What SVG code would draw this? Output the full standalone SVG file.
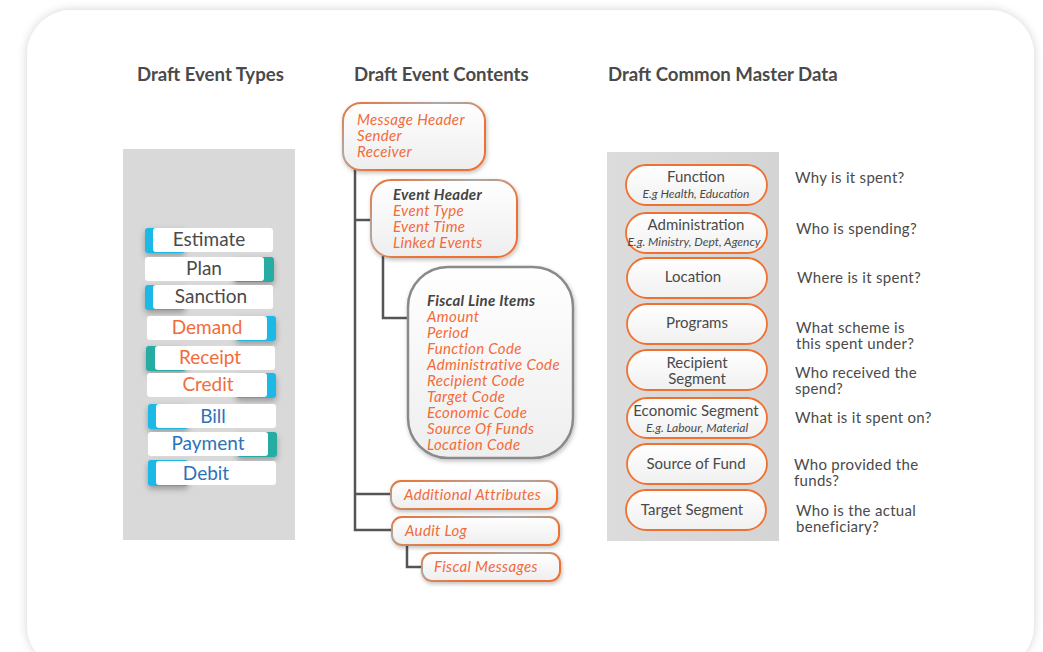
<svg xmlns="http://www.w3.org/2000/svg" width="1043" height="652" viewBox="0 0 1043 652">
<defs>
<filter id="cardsh" x="-5%" y="-5%" width="110%" height="110%"><feDropShadow dx="0" dy="0" stdDeviation="5" flood-color="#000" flood-opacity="0.18"/></filter>
<filter id="sh" x="-20%" y="-30%" width="140%" height="180%"><feDropShadow dx="0" dy="3" stdDeviation="3" flood-color="#000" flood-opacity="0.3"/></filter>
<filter id="sh2" x="-10%" y="-10%" width="120%" height="130%"><feDropShadow dx="1" dy="2" stdDeviation="2" flood-color="#000" flood-opacity="0.25"/></filter>
<linearGradient id="boxfill" x1="0" y1="0" x2="0" y2="1"><stop offset="0" stop-color="#ffffff"/><stop offset="1" stop-color="#eeeeee"/></linearGradient>
<linearGradient id="ostroke" x1="0" y1="0" x2="1" y2="1"><stop offset="0" stop-color="#f07030"/><stop offset="0.35" stop-color="#aaaaaa"/><stop offset="0.65" stop-color="#f07030"/><stop offset="1" stop-color="#f07030"/></linearGradient>
<linearGradient id="panel" x1="0" y1="0" x2="1" y2="0"><stop offset="0" stop-color="#dcdcdc"/><stop offset="1" stop-color="#d4d4d4"/></linearGradient>
<linearGradient id="pill" x1="0" y1="0" x2="0" y2="1"><stop offset="0" stop-color="#ffffff"/><stop offset="1" stop-color="#f0f0f0"/></linearGradient>
</defs>
<style>
.h{font-family:Lato,"Liberation Sans",sans-serif;font-weight:bold;font-size:18.6px;fill:#4a4a4a}
.et{font-family:Lato,"Liberation Sans",sans-serif;font-size:19px;text-anchor:middle}
.g{fill:#4a4a4a}.o{fill:#f26b3a}.b{fill:#2e72b8}
.btn{fill:#ffffff}
.cy{fill:#1bb8e6}.tl{fill:#26aca2}
.mb{fill:url(#boxfill);stroke:url(#ostroke);stroke-width:2}
.it{font-family:Lato,"Liberation Sans",sans-serif;font-style:italic;font-size:15px;letter-spacing:0.36px;fill:#f26b3a}
.bi{font-family:Lato,"Liberation Sans",sans-serif;font-style:italic;font-weight:bold;font-size:15px;letter-spacing:0.3px;fill:#444}
.ln{fill:none;stroke:#555;stroke-width:2.5}
.pl{fill:url(#pill);stroke:#f07030;stroke-width:1.8}
.pt{font-family:Lato,"Liberation Sans",sans-serif;font-size:15px;fill:#4a4a4a;text-anchor:middle}
.ps{font-family:Lato,"Liberation Sans",sans-serif;font-style:italic;font-size:12px;fill:#4a4a4a;text-anchor:middle}
.q{font-family:Lato,"Liberation Sans",sans-serif;font-size:15px;letter-spacing:0.3px;fill:#4a4a4a}
</style>
<rect x="0" y="0" width="1043" height="652" fill="#ffffff"/>
<rect x="27" y="10" width="1007" height="660" rx="45" fill="#ffffff" filter="url(#cardsh)"/>

<text class="h" x="137" y="81">Draft Event Types</text>
<text class="h" x="354" y="81">Draft Event Contents</text>
<text class="h" x="608" y="81">Draft Common Master Data</text>

<rect x="123" y="149" width="172" height="391" fill="#d9d9d9"/>
<rect x="607" y="152" width="172" height="389" fill="url(#panel)"/>

<g id="estimate"><rect class="cy" x="145" y="228" width="40" height="25" rx="3" filter="url(#sh)"/><rect class="btn" x="153" y="228" width="120" height="24" rx="3"/><text class="et g" x="209" y="246">Estimate</text></g>
<g id="plan"><rect class="tl" x="234" y="257" width="40" height="25" rx="3" filter="url(#sh)"/><rect class="btn" x="145" y="257" width="119" height="24" rx="3"/><text class="et g" x="204" y="275">Plan</text></g>
<g id="sanction"><rect class="cy" x="145" y="285" width="40" height="25" rx="3" filter="url(#sh)"/><rect class="btn" x="153" y="285" width="120" height="24" rx="3"/><text class="et g" x="211" y="303">Sanction</text></g>
<g id="demand"><rect class="cy" x="236" y="316" width="40" height="25" rx="3" filter="url(#sh)"/><rect class="btn" x="147" y="316" width="120" height="24" rx="3"/><text class="et o" x="207" y="334">Demand</text></g>
<g id="receipt"><rect class="tl" x="146" y="346" width="40" height="25" rx="3" filter="url(#sh)"/><rect class="btn" x="155" y="346" width="120" height="24" rx="3"/><text class="et o" x="210" y="364">Receipt</text></g>
<g id="credit"><rect class="cy" x="236" y="373" width="40" height="25" rx="3" filter="url(#sh)"/><rect class="btn" x="147" y="373" width="120" height="24" rx="3"/><text class="et o" x="208" y="391">Credit</text></g>
<g id="bill"><rect class="cy" x="148" y="404" width="40" height="25" rx="3" filter="url(#sh)"/><rect class="btn" x="156" y="404" width="120" height="24" rx="3"/><text class="et b" x="213" y="423">Bill</text></g>
<g id="payment"><rect class="tl" x="237" y="432" width="40" height="25" rx="3" filter="url(#sh)"/><rect class="btn" x="148" y="432" width="120" height="24" rx="3"/><text class="et b" x="208" y="450">Payment</text></g>
<g id="debit"><rect class="cy" x="148" y="460" width="40" height="26" rx="3" filter="url(#sh)"/><rect class="btn" x="156" y="461" width="120" height="24" rx="3"/><text class="et b" x="206" y="480">Debit</text></g>

<g id="connectors">
<path class="ln" d="M355 168 V530 H392"/>
<path class="ln" d="M355 220 H372"/>
<path class="ln" d="M355 494 H391"/>
<path class="ln" d="M383 256 V318 H410"/>
<path class="ln" d="M407 544 V567 H423"/>
</g>

<g id="message-header"><rect class="mb" x="343" y="103" width="142" height="67" rx="18" filter="url(#sh2)"/>
<text class="it" x="357" y="125">Message Header</text><text class="it" x="357" y="141">Sender</text><text class="it" x="357" y="157">Receiver</text></g>
<g id="event-header"><rect class="mb" x="371" y="180" width="146" height="77" rx="20" filter="url(#sh2)"/>
<text class="bi" x="393" y="200">Event Header</text><text class="it" x="393" y="216">Event Type</text><text class="it" x="393" y="232">Event Time</text><text class="it" x="393" y="248">Linked Events</text></g>
<g id="fiscal-line-items"><rect x="408" y="267" width="165" height="191" rx="40" fill="url(#boxfill)" stroke="#8a8a8a" stroke-width="2.5" filter="url(#sh2)"/>
<text class="bi" x="427" y="306">Fiscal Line Items</text>
<text class="it" x="427" y="322">Amount</text><text class="it" x="427" y="338">Period</text><text class="it" x="427" y="354">Function Code</text><text class="it" x="427" y="370">Administrative Code</text><text class="it" x="427" y="386">Recipient Code</text><text class="it" x="427" y="402">Target Code</text><text class="it" x="427" y="418">Economic Code</text><text class="it" x="427" y="434">Source Of Funds</text><text class="it" x="427" y="450">Location Code</text></g>
<g id="additional-attributes"><rect class="mb" x="391" y="481" width="166" height="28" rx="10" filter="url(#sh2)"/><text class="it" x="404" y="500">Additional Attributes</text></g>
<g id="audit-log"><rect class="mb" x="392" y="517" width="167" height="28" rx="10" filter="url(#sh2)"/><text class="it" x="405" y="536">Audit Log</text></g>
<g id="fiscal-messages"><rect class="mb" x="422" y="553" width="138" height="28" rx="10" filter="url(#sh2)"/><text class="it" x="434" y="572">Fiscal Messages</text></g>

<g id="function"><rect class="pl" x="626" y="165" width="141" height="40" rx="20"/><text class="pt" x="696" y="182">Function</text><text class="ps" x="696" y="198">E.g Health, Education</text></g>
<g id="administration"><rect class="pl" x="626" y="213" width="141" height="40" rx="20"/><text class="pt" x="696" y="230">Administration</text><text class="ps" x="694" y="246">E.g. Ministry, Dept, Agency</text></g>
<g id="location"><rect class="pl" x="627" y="258" width="140" height="40" rx="20"/><text class="pt" x="693" y="282">Location</text></g>
<g id="programs"><rect class="pl" x="627" y="304" width="140" height="40" rx="20"/><text class="pt" x="697" y="328">Programs</text></g>
<g id="recipient-segment"><rect class="pl" x="627" y="350" width="140" height="40" rx="20"/><text class="pt" x="697" y="368">Recipient</text><text class="pt" x="697" y="384">Segment</text></g>
<g id="economic-segment"><rect class="pl" x="627" y="398" width="140" height="40" rx="20"/><text class="pt" x="696" y="416">Economic Segment</text><text class="ps" x="697" y="432">E.g. Labour, Material</text></g>
<g id="source-of-fund"><rect class="pl" x="627" y="444" width="140" height="40" rx="20"/><text class="pt" x="696" y="469">Source of Fund</text></g>
<g id="target-segment"><rect class="pl" x="626" y="490" width="140" height="40" rx="20"/><text class="pt" x="692" y="515">Target Segment</text></g>

<g id="questions">
<text class="q" x="795" y="183">Why is it spent?</text>
<text class="q" x="796" y="234">Who is spending?</text>
<text class="q" x="797" y="283">Where is it spent?</text>
<text class="q" x="796" y="333">What scheme is</text><text class="q" x="796" y="349">this spent under?</text>
<text class="q" x="795" y="378">Who received the</text><text class="q" x="795" y="394">spend?</text>
<text class="q" x="795" y="423">What is it spent on?</text>
<text class="q" x="794" y="470">Who provided the</text><text class="q" x="794" y="486">funds?</text>
<text class="q" x="796" y="516">Who is the actual</text><text class="q" x="796" y="532">beneficiary?</text>
</g>
</svg>
